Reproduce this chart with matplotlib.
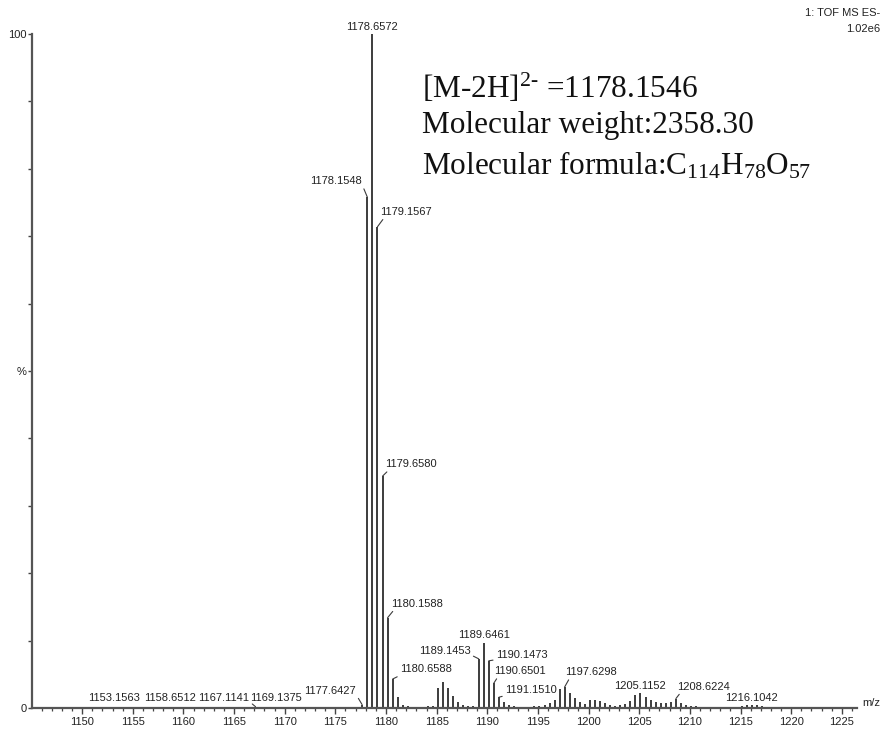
import matplotlib
matplotlib.use("Agg")
import matplotlib.pyplot as plt
from matplotlib.ticker import MultipleLocator, FixedLocator

plt.rcParams['font.family'] = ['Liberation Sans', 'DejaVu Sans']
plt.rcParams['mathtext.fontset'] = 'custom'
plt.rcParams['mathtext.rm'] = 'Liberation Serif'
plt.rcParams['mathtext.it'] = 'Liberation Serif:italic'

# ---- data: centroided peaks (m/z, relative intensity %) ----
mz = [1153.1563, 1158.6512, 1167.1141, 1169.1375,
      1177.6427, 1178.1548, 1178.6572, 1179.1567, 1179.6580, 1180.1588,
      1180.6588, 1181.16, 1181.66, 1182.16, 1182.66, 1183.16, 1183.66,
      1184.16, 1184.66, 1185.10, 1185.60, 1186.10, 1186.60, 1187.10,
      1187.60, 1188.10, 1188.60, 1189.1453, 1189.6461, 1190.1473,
      1190.6501, 1191.1510, 1191.65, 1192.15, 1192.65, 1193.15, 1193.65,
      1194.15, 1194.65, 1195.15, 1195.65, 1196.15, 1196.65, 1197.13,
      1197.6298, 1198.13, 1198.63, 1199.13, 1199.63, 1200.10, 1200.60,
      1201.10, 1201.60, 1202.10, 1202.60, 1203.10, 1203.60, 1204.10,
      1204.62, 1205.1152, 1205.62, 1206.12, 1206.62, 1207.12, 1207.62,
      1208.12, 1208.6224, 1209.12, 1209.62, 1210.12, 1210.62, 1211.12,
      1212.12, 1213.12, 1214.12, 1215.12, 1215.62, 1216.1042, 1216.62,
      1217.12, 1218.12, 1219.12, 1220.12]
intensity = [0.2, 0.2, 0.2, 0.2,
             0.5, 75.8, 100.0, 71.4, 34.4, 13.4,
             4.3, 1.6, 0.5, 0.3, 0.2, 0.2, 0.2,
             0.3, 0.3, 3.0, 3.9, 3.0, 1.8, 0.9,
             0.4, 0.3, 0.3, 7.3, 9.6, 7.0,
             3.7, 1.6, 0.9, 0.4, 0.3, 0.2, 0.2,
             0.2, 0.3, 0.3, 0.5, 0.7, 1.2, 2.8,
             3.1, 2.2, 1.5, 0.9, 0.6, 1.2, 1.2,
             1.1, 0.7, 0.4, 0.3, 0.4, 0.6, 1.0,
             1.9, 2.2, 1.7, 1.2, 0.9, 0.8, 0.8,
             0.9, 1.4, 0.7, 0.4, 0.3, 0.3, 0.2,
             0.2, 0.2, 0.2, 0.3, 0.4, 0.5, 0.4,
             0.3, 0.2, 0.2, 0.2]

labeled = ['1153.1563', '1158.6512', '1167.1141', '1169.1375', '1177.6427',
           '1178.1548', '1178.6572', '1179.1567', '1179.6580', '1180.1588',
           '1180.6588', '1189.1453', '1189.6461', '1190.1473', '1190.6501',
           '1191.1510', '1197.6298', '1205.1152', '1208.6224', '1216.1042']

x_ticks = [1150, 1155, 1160, 1165, 1170, 1175, 1180, 1185, 1190, 1195,
           1200, 1205, 1210, 1215, 1220, 1225]

# ---- layout: label placement (offset pixels from peak top, alignment, connector) ----
label_layout = {
    '1153.1563': (0, 4, 'center', False),
    '1158.6512': (0, 4, 'center', False),
    '1167.1141': (-6, 4, 'right', True),
    '1169.1375': (0, 4, 'center', False),
    '1177.6427': (-6, 9, 'right', True),
    '1178.1548': (-5, 11, 'right', True),
    '1178.6572': (0, 2, 'center', False),
    '1179.1567': (3, 10, 'left', True),
    '1179.6580': (3, 7, 'left', True),
    '1180.1588': (3, 9, 'left', True),
    '1180.6588': (7, 5, 'left', True),
    '1189.1453': (-8, 3, 'right', True),
    '1189.6461': (0, 3, 'center', False),
    '1190.1473': (7, 1, 'left', True),
    '1190.6501': (0, 7, 'left', True),
    '1191.1510': (6, 2, 'left', True),
    '1197.6298': (1, 10, 'left', True),
    '1205.1152': (0, 2, 'center', False),
    '1208.6224': (1, 7, 'left', True),
    '1216.1042': (0, 2, 'center', False),
}

W, H, DPI = 885, 729, 100
fig = plt.figure(figsize=(W / DPI, H / DPI), dpi=DPI)
ax = fig.add_axes([32 / W, (H - 708) / H, (857 - 32) / W, (708 - 34) / H])

peak_color = '#3c3c3c'
ax.vlines(mz, 0, intensity, colors=peak_color, linewidth=1.4, clip_on=False)

ax.set_xlim(1145.05, 1226.5)
ax.set_ylim(0, 100)

for s in ['top', 'right']:
    ax.spines[s].set_visible(False)
for s in ['left', 'bottom']:
    ax.spines[s].set_color('#555555')
    ax.spines[s].set_linewidth(1.6)

ax.xaxis.set_major_locator(FixedLocator(x_ticks))
ax.xaxis.set_minor_locator(MultipleLocator(1))
ax.set_xticklabels([str(t) for t in x_ticks])
ax.tick_params(axis='x', which='major', direction='out', length=4.5, width=1.0,
               color='#444444', labelsize=8, pad=2, labelcolor='#222222')
ax.tick_params(axis='x', which='minor', direction='out', length=2.5, width=0.9,
               color='#444444')

ax.yaxis.set_major_locator(FixedLocator([0, 10, 20, 30, 40, 50, 60, 70, 80, 90, 100]))
ax.set_yticklabels(['0', '', '', '', '', '%', '', '', '', '', '100'])
ax.tick_params(axis='y', which='major', direction='out', length=3, width=1.0,
               color='#444444', labelsize=8, pad=1, labelcolor='#222222')

ax.text(1.006, 0.0, 'm/z', transform=ax.transAxes, fontsize=8,
        ha='left', va='bottom', color='#222222')

# peak labels
lookup = {f'{m:.4f}': i for i, m in enumerate(mz)}
for lab in labeled:
    i = lookup[lab]
    dx, dy, ha, conn = label_layout[lab]
    kw = {}
    if conn:
        relx = 1.0 if ha == 'right' else 0.1
        kw['arrowprops'] = dict(arrowstyle='-', color=peak_color, lw=0.8,
                                shrinkA=0, shrinkB=0, relpos=(relx, 0.1))
    ax.annotate(lab, xy=(mz[i], intensity[i]), xytext=(dx, dy),
                textcoords='offset pixels', ha=ha, va='bottom',
                fontsize=8, color='#222222', annotation_clip=False, **kw)

# header
fig.text(880 / W, 1 - 13 / H, '1: TOF MS ES-', ha='right', va='center',
         fontsize=8, color='#222222')
fig.text(880 / W, 1 - 29 / H, '1.02e6', ha='right', va='center',
         fontsize=8, color='#222222')

# annotation box text
serif = ['Liberation Serif', 'DejaVu Serif']
fs = 22.5
fig.text(422 / W, 1 - 88 / H, r'[M-2H]$^{2\text{-}}$ =1178.1546', ha='left', va='center',
         fontsize=fs, family=serif, color='#111111')
fig.text(422 / W, 1 - 126 / H, 'Molecular weight:2358.30', ha='left', va='center',
         fontsize=fs, family=serif, color='#111111')
fig.text(422 / W, 1 - 166 / H, r'Molecular formula:C$_{114}$H$_{78}$O$_{57}$',
         ha='left', va='center', fontsize=fs, family=serif, color='#111111')

fig.savefig('out.png', dpi=DPI)
